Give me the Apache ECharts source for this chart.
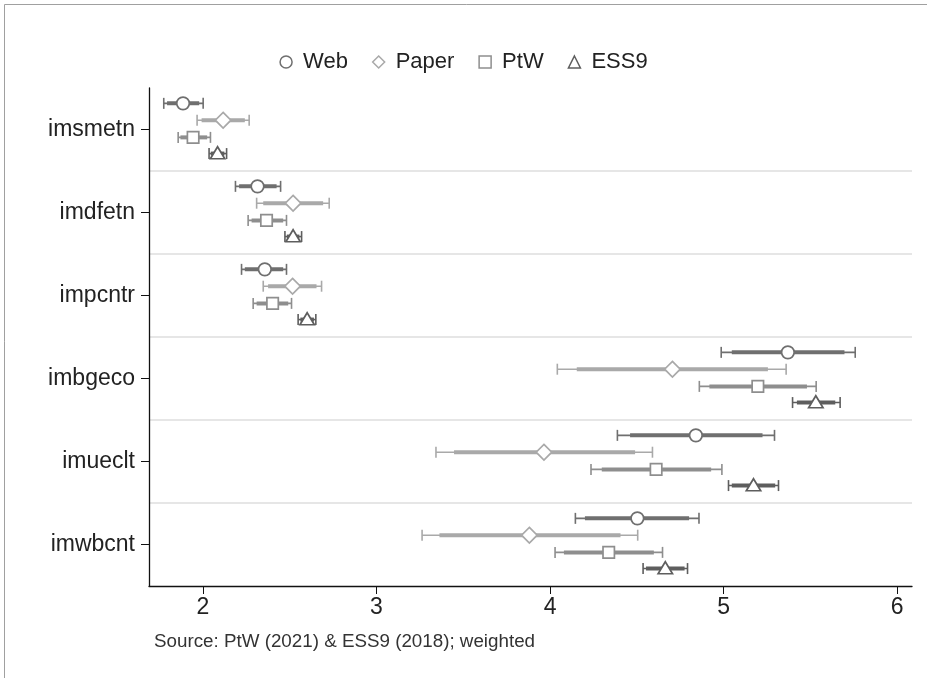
<!DOCTYPE html>
<html><head><meta charset="utf-8">
<script src="https://cdn.jsdelivr.net/npm/echarts@6/dist/echarts.min.js"></script>
<style>html,body{margin:0;padding:0;background:#fff}#c{width:927px;height:678px}</style>
</head><body><div id="c"></div>
<script>
const categories = ['imsmetn','imdfetn','impcntr','imbgeco','imueclt','imwbcnt'];
const seriesNames = ['Web','Paper','PtW','ESS9'];
const tickLabels = [2,3,4,5,6];
// rows per category: [estimate, inner low, inner high, outer low, outer high]
const webValues = [
  [1.886,1.794,1.979,1.775,2.002],
  [2.315,2.209,2.425,2.188,2.448],
  [2.357,2.242,2.463,2.223,2.482],
  [5.370,5.047,5.696,4.986,5.758],
  [4.840,4.461,5.224,4.388,5.293],
  [4.503,4.201,4.801,4.146,4.858]
];
const paperValues = [
  [2.117,1.993,2.242,1.967,2.267],
  [2.520,2.348,2.693,2.310,2.728],
  [2.517,2.376,2.655,2.348,2.684],
  [4.705,4.154,5.255,4.042,5.360],
  [3.965,3.447,4.490,3.343,4.590],
  [3.881,3.363,4.406,3.263,4.505]
];
const ptwValues = [
  [1.944,1.871,2.025,1.858,2.044],
  [2.367,2.281,2.463,2.261,2.482],
  [2.402,2.310,2.492,2.290,2.511],
  [5.197,4.918,5.480,4.860,5.533],
  [4.611,4.298,4.928,4.236,4.990],
  [4.338,4.080,4.598,4.029,4.648]
];
const ess9Values = [
  [2.085,2.046,2.124,2.036,2.137],
  [2.520,2.484,2.556,2.473,2.569],
  [2.601,2.562,2.640,2.549,2.651],
  [5.531,5.422,5.643,5.397,5.671],
  [5.172,5.047,5.297,5.028,5.316],
  [4.664,4.553,4.775,4.536,4.792]
];

const colors = {Web:'#6f6f6f', Paper:'#a9a9a9', PtW:'#8e8e8e', ESS9:'#5e5e5e'};
const shapes = {Web:'circle', Paper:'diamond', PtW:'rect', ESS9:'triangle'};
const offsets = {Web:-0.315, Paper:-0.112, PtW:0.095, ESS9:0.29};
const allValues = {Web:webValues, Paper:paperValues, PtW:ptwValues, ESS9:ess9Values};

function marker(shape, cx, cy, color) {
  const st = {fill:'#fff', stroke:color, lineWidth:1.7};
  if (shape === 'circle') return {type:'circle', shape:{cx:cx, cy:cy, r:6.3}, style:st};
  if (shape === 'rect') return {type:'rect', shape:{x:cx-5.7, y:cy-5.7, width:11.4, height:11.4}, style:st};
  if (shape === 'diamond') return {type:'polygon', shape:{points:[[cx,cy-7.8],[cx+7.8,cy],[cx,cy+7.8],[cx-7.8,cy]]}, style:st};
  return {type:'polygon', shape:{points:[[cx,cy-6.8],[cx+7.2,cy+5.2],[cx-7.2,cy+5.2]]}, style:st};
}

function makeRender(name) {
  const color = colors[name], shape = shapes[name], off = offsets[name];
  return function(params, api) {
    const cat = api.value(5);
    const band = api.size([0,1])[1];
    const yc = api.coord([0, cat])[1] + off * band;
    const px = v => api.coord([v, cat])[0];
    const est = px(api.value(0)), ilo = px(api.value(1)), ihi = px(api.value(2));
    const lo = px(api.value(3)), hi = px(api.value(4));
    const thin = {stroke:color, lineWidth:1.6};
    return {type:'group', children:[
      {type:'line', shape:{x1:lo, y1:yc, x2:hi, y2:yc}, style:thin},
      {type:'line', shape:{x1:lo, y1:yc-5.5, x2:lo, y2:yc+5.5}, style:thin},
      {type:'line', shape:{x1:hi, y1:yc-5.5, x2:hi, y2:yc+5.5}, style:thin},
      {type:'line', shape:{x1:ilo, y1:yc, x2:ihi, y2:yc}, style:{stroke:color, lineWidth:4}},
      marker(shape, est, yc, color)
    ]};
  };
}

const series = seriesNames.map(name => ({
  type:'custom',
  name:name,
  renderItem: makeRender(name),
  encode:{x:[0,1,2,3,4], y:5},
  itemStyle:{color:colors[name]},
  data: allValues[name].map((r,i) => [r[0],r[1],r[2],r[3],r[4],i]),
  z:10
}));

const legendIcons = {Web:'circle', Paper:'diamond', PtW:'rect', ESS9:'triangle'};
const chart = echarts.init(document.getElementById('c'));
chart.setOption({
  animation:false,
  backgroundColor:'#fff',
  textStyle:{fontFamily:'Liberation Sans, Arial, sans-serif'},
  legend:{
    top:46, left:'center',
    itemWidth:12, itemHeight:12, itemGap:24,
    textStyle:{fontSize:22, color:'#222', padding:[0,0,0,6], fontFamily:'Liberation Sans, Arial, sans-serif'},
    data: seriesNames.map(n => ({name:n, icon:legendIcons[n],
      itemStyle:{color:'#fff', borderColor:colors[n], borderWidth:1.5}}))
  },
  title:{
    text:'Source: PtW (2021) & ESS9 (2018); weighted',
    left:149, top:627,
    textStyle:{fontSize:18.8, fontWeight:'normal', color:'#333', fontFamily:'Liberation Sans, Arial, sans-serif'}
  },
  graphic:[{type:'rect', shape:{x:4.5, y:4.5, width:960, height:720}, style:{fill:'none', stroke:'#a0a0a0', lineWidth:1}, silent:true}],
  grid:{left:149, right:15, top:88, bottom:92, containLabel:false},
  xAxis:{
    type:'value', min:1.69, max:6.085,
    axisLine:{show:true, lineStyle:{color:'#111', width:1.3}},
    axisTick:{show:true, length:8, lineStyle:{color:'#111'}, customValues:tickLabels},
    axisLabel:{fontSize:23, color:'#222', margin:10, customValues:tickLabels},
    splitLine:{show:false}
  },
  yAxis:{
    type:'category', data:categories, inverse:true,
    axisLine:{show:true, lineStyle:{color:'#111', width:1.3}},
    axisTick:{show:true, length:8, alignWithLabel:true, lineStyle:{color:'#111'}},
    axisLabel:{fontSize:23, color:'#222', margin:14},
    splitLine:{show:true, showMinLine:false, showMaxLine:false, lineStyle:{color:'#e6e6e6', width:2}}
  },
  series:series
});
</script></body></html>
